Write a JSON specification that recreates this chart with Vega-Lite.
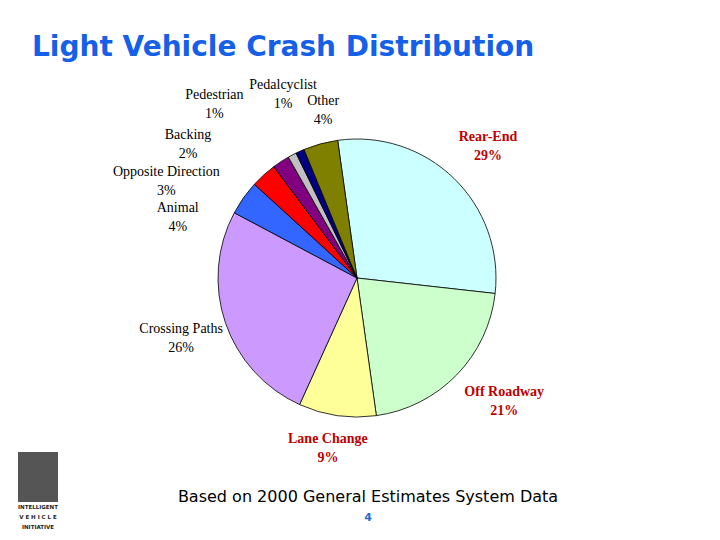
{
  "$schema": "https://vega.github.io/schema/vega-lite/v6.json",
  "background": "white",
  "padding": {"left": 18, "top": 34, "right": 24, "bottom": 0},
  "bounds": "flush",
  "config": {"view": {"stroke": null}, "concat": {"spacing": 0}, "font": "DejaVu Sans"},
  "title": {
    "text": "Light Vehicle Crash Distribution",
    "anchor": "start",
    "frame": "group",
    "dx": 14,
    "offset": 16,
    "font": "DejaVu Sans",
    "fontSize": 28,
    "fontWeight": "bold",
    "color": "#1560e8"
  },
  "datasets": {
    "crashes": [
      {"type": "Rear-End", "pct": 29},
      {"type": "Off Roadway", "pct": 21},
      {"type": "Lane Change", "pct": 9},
      {"type": "Crossing Paths", "pct": 26},
      {"type": "Animal", "pct": 4},
      {"type": "Opposite Direction", "pct": 3},
      {"type": "Backing", "pct": 2},
      {"type": "Pedestrian", "pct": 1},
      {"type": "Pedalcyclist", "pct": 1},
      {"type": "Other", "pct": 4}
    ]
  },
  "vconcat": [
    {
      "width": 678,
      "height": 348,
      "data": {"name": "crashes"},
      "transform": [
        {"window": [{"op": "row_number", "as": "idx"}]},
        {"stack": "pct", "groupby": [], "sort": [{"field": "idx", "order": "ascending"}], "as": ["p0", "p1"]},
        {"calculate": "(datum.p0 + datum.p1) / 2", "as": "mid"},
        {"calculate": "[datum.type, datum.pct + '%']", "as": "label"}
      ],
      "layer": [
        {
          "mark": {"type": "arc", "outerRadius": 139, "stroke": "#000000", "strokeWidth": 0.8},
          "encoding": {
            "theta": {"field": "p0", "type": "quantitative", "scale": {"domain": [0, 100], "range": [-0.1396, 6.1436]}},
            "theta2": {"field": "p1"},
            "color": {
              "field": "type",
              "type": "nominal",
              "legend": null,
              "scale": {
                "domain": ["Rear-End", "Off Roadway", "Lane Change", "Crossing Paths", "Animal", "Opposite Direction", "Backing", "Pedestrian", "Pedalcyclist", "Other"],
                "range": ["#ccffff", "#ccffcc", "#ffff99", "#cc99ff", "#3366ff", "#ff0000", "#800080", "#c0c0c0", "#000080", "#808000"]
              }
            }
          }
        },
        {
          "transform": [{"filter": "datum.type === 'Rear-End'"}],
          "mark": {"type": "text", "radius": 190, "dx": -1.5, "dy": -4.5, "font": "Liberation Serif", "fontSize": 14, "fontWeight": "bold", "color": "#c00000", "lineHeight": 19, "baseline": "middle", "align": "center"},
          "encoding": {"theta": {"field": "mid", "type": "quantitative"}, "text": {"field": "label"}}
        },
        {
          "transform": [{"filter": "datum.type === 'Off Roadway'"}],
          "mark": {"type": "text", "radius": 190, "dx": 11, "dy": -18, "font": "Liberation Serif", "fontSize": 14, "fontWeight": "bold", "color": "#c00000", "lineHeight": 19, "baseline": "middle", "align": "center"},
          "encoding": {"theta": {"field": "mid", "type": "quantitative"}, "text": {"field": "label"}}
        },
        {
          "transform": [{"filter": "datum.type === 'Lane Change'"}],
          "mark": {"type": "text", "radius": 190, "dx": -2, "dy": -27.5, "font": "Liberation Serif", "fontSize": 14, "fontWeight": "bold", "color": "#c00000", "lineHeight": 19, "baseline": "middle", "align": "center"},
          "encoding": {"theta": {"field": "mid", "type": "quantitative"}, "text": {"field": "label"}}
        },
        {
          "transform": [{"filter": "datum.type === 'Crossing Paths'"}],
          "mark": {"type": "text", "radius": 190, "dx": 4, "dy": -10.5, "font": "Liberation Serif", "fontSize": 14, "color": "#000000", "lineHeight": 19, "baseline": "middle", "align": "center"},
          "encoding": {"theta": {"field": "mid", "type": "quantitative"}, "text": {"field": "label"}}
        },
        {
          "transform": [{"filter": "datum.type === 'Animal'"}],
          "mark": {"type": "text", "radius": 190, "dx": -24, "dy": 40, "font": "Liberation Serif", "fontSize": 14, "color": "#000000", "lineHeight": 19, "baseline": "middle", "align": "center"},
          "encoding": {"theta": {"field": "mid", "type": "quantitative"}, "text": {"field": "label"}}
        },
        {
          "transform": [{"filter": "datum.type === 'Opposite Direction'"}],
          "mark": {"type": "text", "radius": 190, "dx": -63, "dy": 34.5, "font": "Liberation Serif", "fontSize": 14, "color": "#000000", "lineHeight": 19, "baseline": "middle", "align": "center"},
          "encoding": {"theta": {"field": "mid", "type": "quantitative"}, "text": {"field": "label"}}
        },
        {
          "transform": [{"filter": "datum.type === 'Backing'"}],
          "mark": {"type": "text", "radius": 190, "dx": -65, "dy": 15.5, "font": "Liberation Serif", "fontSize": 14, "color": "#000000", "lineHeight": 19, "baseline": "middle", "align": "center"},
          "encoding": {"theta": {"field": "mid", "type": "quantitative"}, "text": {"field": "label"}}
        },
        {
          "transform": [{"filter": "datum.type === 'Pedestrian'"}],
          "mark": {"type": "text", "radius": 190, "dx": -54, "dy": -15, "font": "Liberation Serif", "fontSize": 14, "color": "#000000", "lineHeight": 19, "baseline": "middle", "align": "center"},
          "encoding": {"theta": {"field": "mid", "type": "quantitative"}, "text": {"field": "label"}}
        },
        {
          "transform": [{"filter": "datum.type === 'Pedalcyclist'"}],
          "mark": {"type": "text", "radius": 190, "dx": 4, "dy": -19.5, "font": "Liberation Serif", "fontSize": 14, "color": "#000000", "lineHeight": 19, "baseline": "middle", "align": "center"},
          "encoding": {"theta": {"field": "mid", "type": "quantitative"}, "text": {"field": "label"}}
        },
        {
          "transform": [{"filter": "datum.type === 'Other'"}],
          "mark": {"type": "text", "radius": 190, "dx": 16, "dy": 6, "font": "Liberation Serif", "fontSize": 14, "color": "#000000", "lineHeight": 19, "baseline": "middle", "align": "center"},
          "encoding": {"theta": {"field": "mid", "type": "quantitative"}, "text": {"field": "label"}}
        }
      ]
    },
    {
      "bounds": "flush",
      "spacing": 40,
      "hconcat": [
        {
          "bounds": "flush",
          "spacing": 3,
          "vconcat": [
            {
              "width": 40,
              "height": 50,
              "view": {"fill": "#555555", "stroke": null},
              "data": {"values": [{}]},
              "mark": {"type": "text", "text": ""}
            },
            {
              "width": 40,
              "height": 28,
              "data": {"values": [{}]},
              "mark": {"type": "text", "text": ["INTELLIGENT", "V E H I C L E", "INITIATIVE"], "font": "DejaVu Sans", "fontSize": 5.5, "fontWeight": "bold", "lineHeight": 10, "color": "#222222", "dy": -12, "baseline": "middle"}
            }
          ]
        },
        {
          "width": 620,
          "height": 81,
          "data": {"values": [{}]},
          "layer": [
            {"mark": {"type": "text", "text": "Based on 2000 General Estimates System Data", "font": "DejaVu Sans", "fontSize": 16, "color": "#000000", "dy": 4.5, "baseline": "middle"}},
            {"mark": {"type": "text", "text": "4", "font": "DejaVu Sans", "fontSize": 11, "fontWeight": "bold", "color": "#2a6bc6", "dy": 25.5, "baseline": "middle"}}
          ]
        }
      ]
    }
  ]
}
